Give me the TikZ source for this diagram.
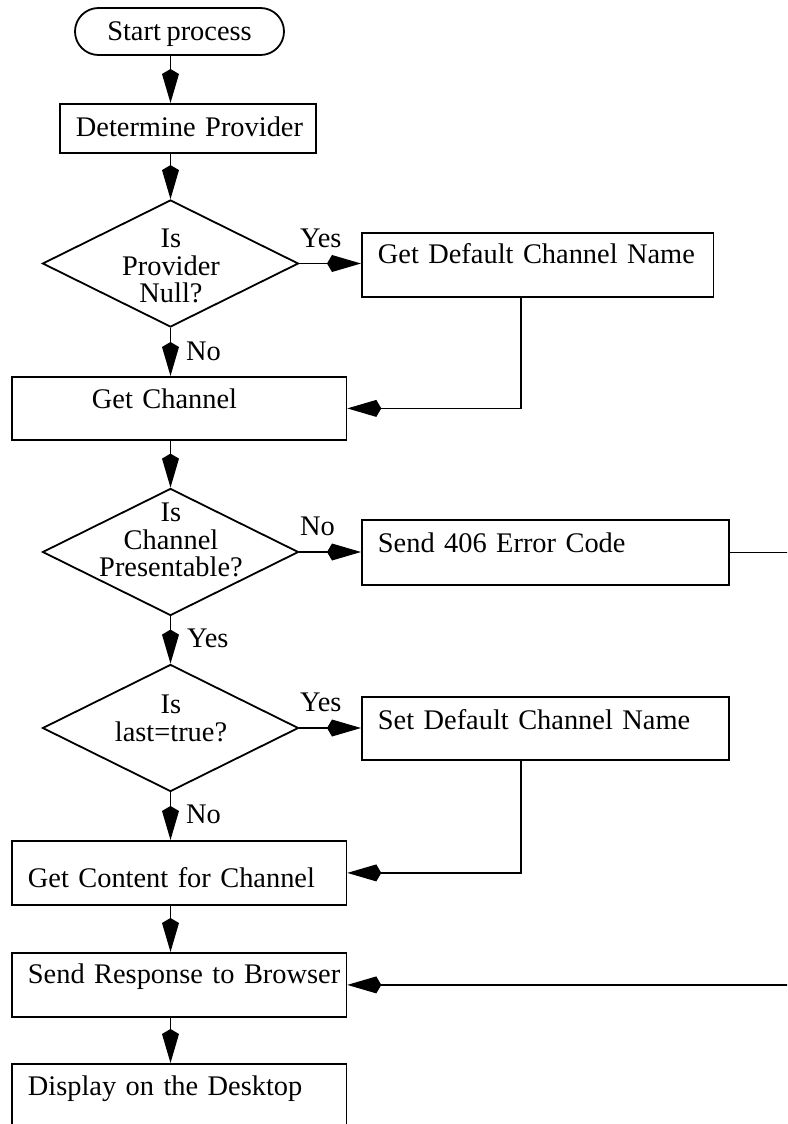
\documentclass[tikz,border=0pt]{standalone}
\usepackage{fontspec}
\setmainfont[WordSpace=0.8]{Liberation Serif}
\usetikzlibrary{arrows.meta,shapes.geometric}
\newcommand\flowfont{\fontsize{28.4pt}{27.5pt}\selectfont}
\begin{document}
\begin{tikzpicture}[x=1pt,y=-1pt,
  every node/.style={font=\flowfont},
  flowline/.style={line width=1.8pt, -{Kite[length=34pt,width=17pt,inset=5pt]}},
  box/.style={draw, line width=1.8pt, inner sep=0pt, anchor=north west, align=left, text height=20pt},
  startbox/.style={draw, line width=1.8pt, rounded corners=23.5pt, inner sep=0pt, minimum width=209pt, minimum height=47pt, text height=20pt, text depth=1.6pt},
  dia/.style={draw, shape=diamond, line width=1.8pt, minimum width=256pt, minimum height=127pt, inner sep=0pt},
  lbl/.style={anchor=base west, inner sep=0pt},
  dtext/.style={align=center, inner sep=0pt}]
\useasboundingbox (0,0) rectangle (787,1124);
\fill[white] (0,0) rectangle (787,1124);
\clip (0,0) rectangle (787,1124);

% nodes
\node[startbox] (start) at (179.5,31.5) {Start process};
\node[box, text width=256pt, minimum height=49pt, text depth=3pt] (dp) at (59,103) {\hspace*{16pt}\mbox{Determine Provider}};
\node[dia] (d1) at (170.5,263.5) {};
\node[dtext] (d1t) at (171,266) {Is\\Provider\\Null?};
\node[box, text width=351.5pt, minimum height=64pt, text depth=22pt] (gdcn) at (361,232) {\hspace*{16pt}\mbox{Get Default Channel Name}};
\node[box, text width=334.5pt, minimum height=63pt, text depth=19.6pt] (gc) at (11,376) {\hspace*{80pt}\mbox{Get Channel}};
\node[dia] (d2) at (170.5,552) {};
\node[dtext] (d2t) at (171,540) {Is\\Channel\\Presentable?};
\node[box, text width=367pt, minimum height=65pt, text depth=19.6pt] (s406) at (361,519) {\hspace*{16pt}\mbox{Send 406 Error Code}};
\node[dia] (d3) at (170.5,728) {};
\node[dtext] (d3t) at (171,718.5) {Is\\last=true?};
\node[box, text width=367pt, minimum height=63pt, text depth=18.4pt] (sdcn) at (361,696) {\hspace*{16pt}\mbox{Set Default Channel Name}};
\node[box, text width=334.5pt, minimum height=64pt, text height=35pt, text depth=5pt] (gcc) at (11,840) {\hspace*{16pt}\mbox{Get Content for Channel}};
\node[box, text width=334.5pt, minimum height=64pt, text depth=22pt] (sresp) at (11,952) {\hspace*{16pt}\mbox{Send Response to Browser}};
\node[box, text width=334.5pt, minimum height=87pt, text depth=43pt] (disp) at (11,1063) {\hspace*{16pt}\mbox{Display on the Desktop}};

% labels
\node[lbl] (yes1) at (300,247.7) {Yes};
\node[lbl] (no1) at (186,360) {No};
\node[lbl] (no2) at (300,535) {No};
\node[lbl] (yes2) at (187,647) {Yes};
\node[lbl] (yes3) at (300,711.7) {Yes};
\node[lbl] (no3) at (186,823) {No};

% connectors
\draw[flowline] (start.south -| d1.north) -- (d1.north |- dp.north);
\draw[flowline] (dp.south -| d1.north) -- (d1.north);
\draw[flowline] (d1.east) -- (gdcn.west |- d1.east);
\draw[flowline] ([xshift=160pt]gdcn.south west) |- (gc.east);
\draw[flowline] (d1.south) -- (d1.south |- gc.north);
\draw[flowline] (gc.south -| d2.north) -- (d2.north);
\draw[flowline] (d2.east) -- (s406.west |- d2.east);
\draw[flowline] (d2.south) -- (d3.north);
\draw[flowline] (d3.east) -- (sdcn.west |- d3.east);
\draw[flowline] ([xshift=160pt]sdcn.south west) |- (gcc.east);
\draw[flowline] (d3.south) -- (d3.south |- gcc.north);
\draw[flowline] (gcc.south -| d3.south) -- (d3.south |- sresp.north);
\draw[flowline] (sresp.south -| d3.south) -- (d3.south |- disp.north);
\draw[flowline] (s406.east) -- ++(80,0) |- (sresp.east);
\end{tikzpicture}
\end{document}
